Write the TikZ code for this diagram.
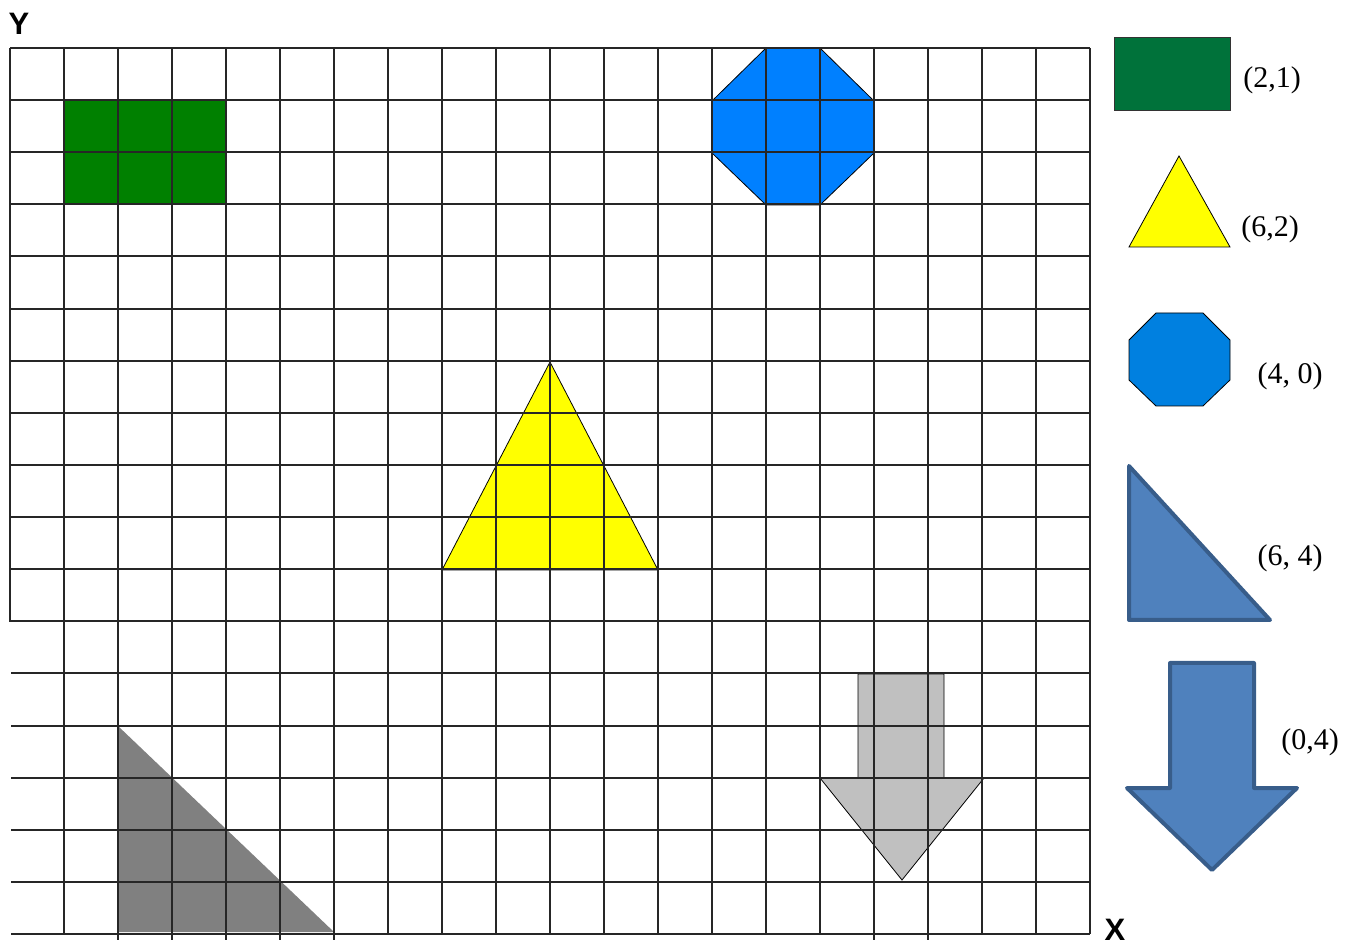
\documentclass[tikz,border=0pt]{standalone}
\usepackage{fontspec}
\setmainfont{Liberation Serif}
\setsansfont{Liberation Sans}
\usepackage{xcolor}
\usepackage{tikz}

\definecolor{gridgreen}{HTML}{008000}
\definecolor{gridblue}{HTML}{0080FF}
\definecolor{shapeyellow}{HTML}{FFFF00}
\definecolor{darkgray}{HTML}{808080}
\definecolor{lightgray}{HTML}{C0C0C0}
\definecolor{keygreen}{HTML}{00723A}
\definecolor{keyblue}{HTML}{0080E0}
\definecolor{steelfill}{HTML}{4F81BD}
\definecolor{steeledge}{HTML}{385D8A}

\tikzset{
  gridline/.style={black!85, line width=1pt},
  keyshape/.style={draw=steeledge, fill=steelfill, line width=2pt, line join=round},
  coordlabel/.style={inner sep=0pt, font=\fontsize{15}{18}\selectfont},
  axislabel/.style={inner sep=0pt, font=\sffamily\bfseries\fontsize{15.5}{18}\selectfont}
}

\begin{document}
\begin{tikzpicture}[x=0.5pt, y=-0.5pt]
    \useasboundingbox (0,0) rectangle (1356,946);

    % 1. Shapes under the grid
    \fill[gridgreen] (64,101) rectangle (226,205);
    \draw[black, thin, fill=gridblue] (766,48) -- (820,48) -- (874,101) -- (874,153)
        -- (820,205) -- (766,205) -- (712,153) -- (712,101) -- cycle;
    \draw[black, thin, fill=shapeyellow] (550,362) -- (658,570) -- (442,570) -- cycle;
    \fill[darkgray] (118,726) -- (334,932) -- (118,932) -- cycle;
    \draw[black, thin, fill=lightgray] (858,674) -- (944,674) -- (944,778) -- (984,778)
        -- (902,880) -- (820,778) -- (858,778) -- cycle;

    % 2. Upper grid (closed on the left)
    \foreach \j in {0,...,11}
        \draw[gridline] (10,{48+52.12*\j}) -- (1090,{48+52.12*\j});
    \draw[gridline] (10,48) -- (10,622);

    % 3. Lower grid (open on the left)
    \foreach \j in {12,...,17}
        \draw[gridline] (11,{48+52.12*\j}) -- (1090,{48+52.12*\j});
    \foreach \i in {1,...,20}
        \draw[gridline] ({10+54*\i},48) -- ({10+54*\i},934);
    % short ticks under the bottom line
    \foreach \i in {2,3,4,5,6,16,17}
        \draw[gridline] ({10+54*\i},934) -- ({10+54*\i},940);

    % 4. Axis letters
    \node[axislabel] (ylabel) at (19,24) {Y};
    \node[axislabel] (xlabel) at (1115,930) {X};

    % 5. Key shapes on the right
    \draw[black!80, thin, fill=keygreen] (1114,37) rectangle (1230,110);
    \draw[black, thin, fill=shapeyellow] (1179,156) -- (1230,247) -- (1129,247) -- cycle;
    \draw[black, thin, fill=keyblue] (1156,313) -- (1203,313) -- (1230,340) -- (1230,380)
        -- (1203,406) -- (1156,406) -- (1129,380) -- (1129,340) -- cycle;
    \draw[keyshape] (1129,466) -- (1270,620) -- (1129,620) -- cycle;
    \draw[keyshape] (1170,663) -- (1254,663) -- (1254,788) -- (1297,788)
        -- (1212,870) -- (1127,788) -- (1170,788) -- cycle;

    % 6. Key labels
    \node[coordlabel] (keyrect) at (1272,80) {(2,1)};
    \node[coordlabel] (keytri) at (1270,229) {(6,2)};
    \node[coordlabel] (keyoct) at (1290,376) {(4, 0)};
    \node[coordlabel] (keyright) at (1290,558) {(6, 4)};
    \node[coordlabel] (keyarrow) at (1310,742) {(0,4)};
\end{tikzpicture}
\end{document}
